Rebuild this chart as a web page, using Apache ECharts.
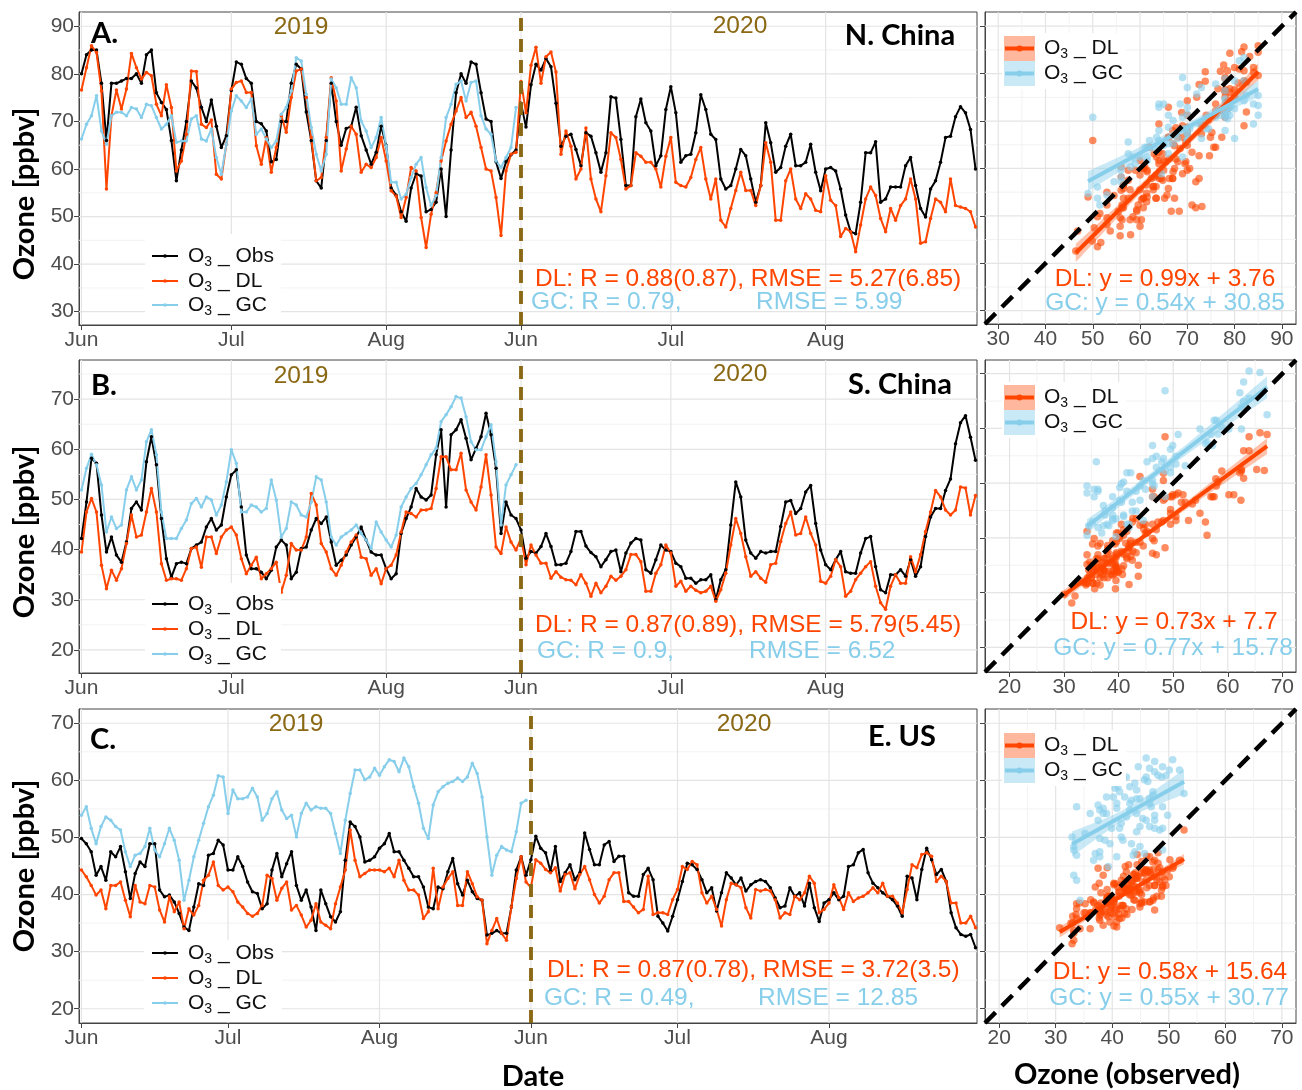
<!DOCTYPE html>
<html>
<head>
<meta charset="utf-8">
<script src="https://cdn.jsdelivr.net/npm/echarts@6/dist/echarts.min.js"></script>
<style>html,body{margin:0;padding:0;background:#fff}#c{width:1302px;height:1090px}</style>
</head>
<body>
<div id="c"></div>
<script>
// ---------------- DATA ----------------
const monthLabels = ['Jun', 'Jul', 'Aug', 'Jun', 'Jul', 'Aug'];
const A_monthIdx = [0, 30, 61, 88, 118, 149];
const B_monthIdx = [0, 30, 61, 88, 118, 149];
const C_monthIdx = [0, 30, 61, 92, 122, 153];
const A_split = 88, B_split = 88, C_split = 92;

const A_yTicks = [30, 40, 50, 60, 70, 80, 90];
const B_yTicks = [20, 30, 40, 50, 60, 70];
const C_yTicks = [20, 30, 40, 50, 60, 70];
const A_sTicks = [30, 40, 50, 60, 70, 80, 90];
const B_sTicks = [20, 30, 40, 50, 60, 70];
const C_sTicks = [20, 30, 40, 50, 60, 70];

const A_yRange = [27.2, 93];
const B_yRange = [15.4, 77.8];
const C_yRange = [17.5, 72.5];
const A_sRange = [27.2, 93];
const B_sRange = [15.5, 72.5];
const C_sRange = [17.5, 72.5];

// Panel A: N. China
const A_obs = [80,84,85,85,78,66,78,78,78.5,79,79,80,78,84,85,76,74,72.5,66,57.5,64,70,78.5,77,73,70,74.5,69,64.5,67,
76.5,82.5,82,79,78,70,69.5,68,61.5,62,70,70,78,82,81,72,66,57.5,56,66,78,70,65,68.5,69,73,67,64,61,63.5,69,
65,56,54.5,51,49,56,59,58.5,51,51.5,53,60,50,64,76,80,78,82.5,82,76,70.5,70,61.5,58,61.5,63,64,
73.8,68.8,77.7,82,80.8,83.2,81.5,73.8,64.8,66.9,67.3,64.1,60.7,67.6,66.9,63.4,59.3,63.4,75.2,74.9,
66.2,56.5,56.5,71,74.7,69.7,68,60.7,62.8,72.5,77.3,71.8,61.4,62.8,63.1,67.6,75.6,72.5,67.3,66.2,
57.9,55.8,56.5,60,64.1,62.8,57.9,53,56.5,69.7,65.5,59.3,60.3,64.8,67.3,60.7,60.7,61.4,65.2,59.3,
55.4,60,60.3,59.6,55.8,50.3,46.8,46.4,53,63.4,63.4,65.7,53,53.7,56.2,56.2,56.2,60.7,62.4,56.5,
51.7,49.9,55.8,57.5,61.4,66.6,66.9,71,73.1,71.8,68.3,60];
const A_dl = [76.6,81.3,85.9,84.5,76.4,55.8,71.2,76.6,72.6,76.8,84.3,81.3,78.9,80.3,79.6,73.6,71.2,77.7,72.9,59.6,61.7,67.3,80.6,80.5,69.4,68.7,70.3,58.9,57.9,65.2,
76.8,78.2,78.5,76.1,76.1,64.9,61,66.6,59.3,64.5,71.2,67.7,75,80.6,81,75,66.6,57.5,58.2,66.6,79.2,74.3,59.6,64.2,69,67.3,59.3,61,60.3,62.4,66.6,
61.7,55.4,54.3,49.8,54,60.3,59.6,49.8,43.5,50.5,55,61.7,65.9,69.4,72.2,75,70.8,71.9,69,64.5,60,59.6,54,46,59.6,63.1,63.5,
78.4,71.8,81.8,85.6,78,83.6,84.6,80.4,63.1,68,64.8,57.9,60,68.6,57.9,53.7,51,58.6,67.6,66.6,
62,55.8,56.5,63.4,62.7,61.4,61.4,60,56.2,62.7,66.6,57.2,56.5,56.2,58.2,62,64.5,57.9,53.7,57.9,
49.2,47.8,51.7,55.5,59.3,55.5,55.5,52.3,56.5,65.5,61.4,49.2,49.2,57.5,60,53.7,51.7,54.8,53.7,51.3,
51,58.6,53.4,52.3,45.8,47.5,46.8,42.6,48.2,53.7,56.2,54.4,49.6,46.8,51.7,49.2,52.3,53.7,57.9,53.7,
44.4,44.7,49.6,53.7,53,51,57.9,52.3,52,51.7,51,47.8];
const A_gc = [66.3,69.4,71.2,75.4,68,65.2,71.2,71.9,71.9,71.2,72.9,72.6,70.8,73.6,73.3,70.8,68.4,69.4,71.2,65.6,65.9,65.9,70.5,71.2,66.3,65.9,68.4,62.4,58.9,65.2,
72.2,75.4,74.3,72.9,74.7,67.3,68.4,66.3,64.5,65.9,71.5,72.9,76.4,83.4,82.7,75.7,68.7,63.1,59.6,63.1,78.9,77.1,73.6,73.6,79.2,77.1,70.1,68,64.5,66.6,70.8,
64.9,57.2,57.2,53.7,54.7,58.2,61,62.4,56.1,52.3,54.4,62.4,70.8,73.6,77.8,78.5,74.3,78.2,78.5,71.2,68.4,67.3,61.7,60.3,62.4,64.5,72.9];

// Panel B: S. China
const B_obs = [42.2,49.5,58.2,57.2,46.9,39.5,42.5,38.9,37.5,41.5,48.2,49.5,47.9,57.5,62.5,56.9,46.2,38.2,34.5,37.2,37.5,37.2,40.2,40.9,41.5,44.5,46.2,43.9,44.9,50.5,
54.9,55.9,48.5,38.9,36.2,36.2,35.5,34.2,35.9,40.5,41.9,40.9,34.2,35.5,40.2,40.5,43.9,46.2,45.2,46.5,41.5,36.9,37.9,38.9,40.9,42.5,44.5,41.9,39.5,38.9,38.9,
36.2,34.2,35.2,43.2,46.2,48.5,52.2,50.5,49.9,50.9,58.9,63.9,48.5,62.9,63.9,65.9,62.2,57.9,60.2,62.5,67.2,62.9,56.2,43.2,49.5,46.9,46.2,
43.9,38.3,39.6,39.3,40.6,43.2,40.6,37,37,37.3,39.6,43.6,43.6,40.7,39.4,38.6,36.6,38,39.6,39.9,
35.6,39.3,41.3,42.2,41.9,36,35.3,38,40.9,39.9,39.6,37.3,36.6,34.3,34.3,33.3,34,34,35,30,
34,36,44.9,53.5,50.5,41.9,39.3,38.3,39.6,39.3,39.6,39.6,44.6,49.5,49.8,47.2,48.2,51.5,52.8,45.2,
39.9,37,36,38,39.6,35.6,35.3,35.3,39.3,42.2,42.6,36.6,32,31.4,35,35,36,34.7,38,34.7,
36.6,42.6,46.5,48.2,48.2,51.8,54.1,61.1,65.3,66.7,62.4,57.8];
const B_dl = [39.5,47.5,50.2,47.5,36.9,32.2,35.9,33.9,36.2,41.2,46.9,42.5,42.9,47.5,52.2,47.5,37.2,33.9,34.2,34.2,33.9,36.2,40.2,40.5,36.5,42.5,42.5,39.2,42.5,43.9,
44.5,42.9,38.2,35.2,36.9,38.5,34.2,35.2,36.2,37.5,31.5,34.9,41.2,39.9,39.9,42.5,51.2,48.9,41.2,39.5,36.2,34.9,36.9,39.5,41.5,42.9,38.5,38.2,34.9,36.2,33.2,
36.2,36.9,38.9,43.5,47.5,47.2,46.5,47.9,47.9,48.2,52.2,58.5,58.5,55.9,55.9,59.2,51.9,49.5,47.9,52.5,58.9,50.9,40.5,39.2,44.5,41.5,39.9,
42.3,37,40.9,38.9,37.3,37.3,34.3,35.6,34.5,34,33.9,33,35,33.3,30.7,33.3,31.4,32.7,34.7,33.9,
34.7,36,39,39,37.6,31.7,31.7,35.3,37,40.9,39.3,32.7,33.7,31.7,32.7,31.9,31.4,31.7,32.7,29.7,
32,35.3,40.9,46.2,43.2,38.6,34.7,35.6,34.3,33.5,37,37.3,41.6,45.2,47.5,42.9,43.2,46.5,43.2,40.9,
33.7,33.3,34.7,38,36.6,30.7,31.7,34,35.3,36.6,37.6,32.7,29.4,28.1,32.7,35,33.3,33.3,38.6,35.6,
39,43.6,47.5,51.8,50.5,47.9,46.9,47.9,52.5,52.3,46.9,50.8];
const B_gc = [51.9,56.2,59,56.9,52.9,43.5,46.5,44.2,44.9,51.9,54.5,51.9,53.9,61.5,63.9,58.9,47.5,42.2,42.2,42.2,44.2,45.9,49.2,50.2,48.5,50.5,49.9,46.9,48.9,53.5,
59.9,57.2,47.5,47.5,48.9,48.5,47.5,48.2,53.9,49.9,42.5,44.2,49.5,48.9,46.9,46.5,49.5,54.5,53.9,49.5,42.5,40.9,42.5,43.2,43.9,44.9,43.2,41.9,40.2,45.5,43.5,
41.9,40.5,42.9,48.5,50.5,52.2,53.2,54.9,56.9,58.9,60.2,65.5,66.9,68.5,70.5,70.2,66.5,61.5,59.9,59.9,62.5,64.9,57.5,44.9,52.9,54.9,56.9];

// Panel C: E. US
const C_obs = [49.8,48.9,47.5,43.4,44.9,42.5,47.5,46.6,48.4,44,39.3,43.7,45.7,44.9,48.9,48.9,40.8,39.6,39.9,38.7,36.7,34.3,33.7,37.8,41.9,41.6,46.9,47.2,49.5,48.7,
44.3,44.3,46.6,44.9,42.2,40.5,40.2,37.5,38.4,44.3,47.2,43.1,45.4,47.5,41.6,39,40.8,37.8,33.7,40.8,38.4,36.1,35.2,37,46,52.7,51.9,50.1,45.7,46,46.6,
48.1,48.9,50.7,47.5,47.5,46,44.6,43.1,43.1,41.3,37.8,37.5,41.3,41,44,46.3,41.9,39.9,42.5,40.5,39.3,39,32.9,33.2,33.7,33.2,33.2,37.8,44.3,46.6,43.4,
46.1,50.2,48.1,47.3,44.1,48.4,42.3,43.8,45.2,42.6,43.8,50.8,47.9,45.2,45.2,48.7,49.3,45.8,46.7,46.7,
40.3,39.7,39.7,43.5,44.6,42.6,36.2,35,33.6,36.2,39.1,42.3,45.5,45.2,44.4,42.6,40.3,41.2,37.1,40.3,
43.8,42.9,41.7,42.9,40.6,41.7,42.3,42.6,42.3,41.2,39.4,37.7,38,41.2,39.7,40.3,38,42,37.7,35.3,
38.5,39.1,40.3,39.1,39.7,44.9,45.2,47.3,47.9,43.8,42,41.2,40.3,39.7,39.1,38,36.2,43.2,42.9,39.1,
44.4,48.1,46.1,43.5,44.4,42.3,36.8,34.2,33,32.7,33,30.7];
const C_dl = [44.3,43.1,41.6,39.9,40.8,37.5,41.6,41.6,42.2,39,36.1,41.6,38.7,38.4,41.6,41.3,37.3,35.2,39.6,37,38.7,34,37.5,36.4,38.1,42.5,43.4,45.7,41.6,40.8,
41.3,40.5,38.7,37.8,36.7,36.2,36.7,38.1,43.4,42.8,39,41.1,42.2,37.3,38.1,36.4,34.3,35.5,38.4,35.2,34.6,34,38.4,41.3,44.3,51.3,46,43.1,43.7,44.3,44.3,
44.3,44,44.6,43.1,46,42.5,40.8,40.8,39.9,35.8,37,44.6,37.5,41.3,42.8,44,38.1,38.1,44,41.9,39.6,39,31.4,33.7,35.8,33.2,32,37.8,42.8,46.6,42.2,
41.2,46.1,45.5,44.4,43.8,44.7,40.6,43.5,43.8,41,43.5,44.9,42.6,40,38.5,39.7,42.6,43.8,43.8,38.8,38.8,37.8,
36.8,37.4,43.2,36.5,36.8,36.8,36.5,39.1,40.9,44.9,44.4,45.8,45.2,40.3,38.5,39.7,37.4,34.5,39.1,42,
41.7,41.2,37.7,35.9,40.9,40.6,40.9,40.6,39.1,35.9,36.8,36.5,39.7,39.1,40.3,43.2,42,36.8,37.4,38.5,41.7,39.5,
37.4,40.3,38.8,39.4,39.7,40.3,41.2,40.3,42,39.7,39.7,38.5,36.8,40.9,45.2,44.7,47,47.3,46.7,42.3,43.2,42.3,38.5,38.5,35,35,36.2,34.2];
const C_gc = [53.9,55.4,51.6,48.9,51.9,53.6,53,51.9,51.3,47.5,44.9,46.9,47.2,48.4,51.6,47.8,46.6,48.9,51.6,49.5,46,39,42.5,46.6,49.5,52.5,55.4,57.4,60.8,60.6,
54.2,58.3,56.8,56.8,57.1,58.6,57.1,53,54.2,56.8,58,54.8,53.3,53.9,50.1,54.2,56,54.8,55.4,55.1,55.1,54.2,50.7,47.2,53,57.7,61.8,61.8,60.1,60.6,62.1,
60.9,62.4,63.6,63.3,61.5,63.9,62.4,58.9,56,51.6,49.8,55.7,58,58.9,59.5,59.8,60.4,59.8,60.6,63,61.2,57.1,50.1,43.4,46.9,48.4,47.8,47.5,51,56,56.5];

// Fitted lines drawn (slope, intercept) and their printed labels
const A_fitDL = [0.99, -3.76], A_fitGC = [0.54, 30.85];
const B_fitDL = [0.73, 7.7],  B_fitGC = [0.77, 15.78];
const C_fitDL = [0.58, 15.64], C_fitGC = [0.55, 30.77];
const A_eqText = ['DL: y = 0.99x + 3.76', 'GC: y = 0.54x + 30.85'];
const B_eqText = ['DL: y = 0.73x + 7.7', 'GC: y = 0.77x + 15.78'];
const C_eqText = ['DL: y = 0.58x + 15.64', 'GC: y = 0.55x + 30.77'];
const A_stats = ['DL: R = 0.88(0.87), RMSE = 5.27(6.85)', 'GC: R = 0.79,', 'RMSE = 5.99'];
const B_stats = ['DL: R = 0.87(0.89), RMSE = 5.79(5.45)', 'GC: R = 0.9,', 'RMSE = 6.52'];
const C_stats = ['DL: R = 0.87(0.78), RMSE = 3.72(3.5)', 'GC: R = 0.49,', 'RMSE = 12.85'];
const regions = ['N. China', 'S. China', 'E. US'];
const letters = ['A.', 'B.', 'C.'];
const years = ['2019', '2020'];

// ---------------- STYLE / LAYOUT ----------------
const RED = '#FF4500', BLUE = '#87CEEB', BLACK = '#000000', GOLD = '#8B6914';
const FONT = '"Liberation Sans", Arial, sans-serif';
const BOLD = 'Lato, "Open Sans", sans-serif';
const AXIS_COL = '#444';
const LABEL_COL = '#4D4D4D';

const panels = [
  {obs: A_obs, dl: A_dl, gc: A_gc, months: A_monthIdx, split: A_split, yTicks: A_yTicks, yRange: A_yRange,
   sTicks: A_sTicks, sRange: A_sRange, fitDL: A_fitDL, fitGC: A_fitGC, eq: A_eqText, stats: A_stats,
   top: 12, h: 313, sTop: 12, sH: 312, xMax: 179.3,
   L: {letter: [91, 34], y19: [301, 27], y20: [740, 26], region: [900, 36], leg: [256, 281, 305], legBox: [145, 234, 136, 90],
       dl: [535, 279], gc: [531, 302], rm: [756, 302], eqDL: [1165, 279], eqGC: [1165, 303], sLeg: [36, 61], title: 194}},
  {obs: B_obs, dl: B_dl, gc: B_gc, months: B_monthIdx, split: B_split, yTicks: B_yTicks, yRange: B_yRange,
   sTicks: B_sTicks, sRange: B_sRange, fitDL: B_fitDL, fitGC: B_fitGC, eq: B_eqText, stats: B_stats,
   top: 360, h: 313, sTop: 360, sH: 312, xMax: 179.3,
   L: {letter: [91, 386], y19: [301, 376], y20: [740, 374], region: [900, 385], leg: [604, 629, 654], legBox: [145, 583, 136, 89],
       dl: [535, 625], gc: [537, 651], rm: [749, 651], eqDL: [1174, 622], eqGC: [1173, 648], sLeg: [385, 410], title: 532}},
  {obs: C_obs, dl: C_dl, gc: C_gc, months: C_monthIdx, split: C_split, yTicks: C_yTicks, yRange: C_yRange,
   sTicks: C_sTicks, sRange: C_sRange, fitDL: C_fitDL, fitGC: C_fitGC, eq: C_eqText, stats: C_stats,
   top: 709, h: 314, sTop: 709, sH: 314, xMax: 183.3,
   L: {letter: [90, 740], y19: [296, 724], y20: [744, 724], region: [902, 737], leg: [953, 978, 1003], legBox: [144, 940, 138, 82],
       dl: [547, 970], gc: [544, 998], rm: [758, 998], eqDL: [1170, 972], eqGC: [1169, 998], sLeg: [733, 758], title: 866}}
];
const TS_LEFT = 79, TS_W = 898, SC_LEFT = 985, SC_W = 311;

// ---------------- HELPERS ----------------
function gridData(hTicks, hRange, vTicks, vRange, vMinor) {
  const out = [];
  const add = (o, ticks, range, minor) => {
    ticks.forEach(t => { if (t >= range[0] && t <= range[1]) out.push([o, t, 1]); });
    if (minor) {
      const step = ticks[1] - ticks[0];
      [ticks[0] - step / 2].concat(ticks.map(t => t + step / 2)).forEach(m => {
        if (m > range[0] && m < range[1]) out.push([o, m, 0]);
      });
    }
  };
  add(0, hTicks, hRange, true);
  add(1, vTicks, vRange, vMinor);
  return out;
}
function gridRender(xMin, yMin) {
  return function (params, api) {
    const cs = params.coordSys;
    const o = api.value(0), v = api.value(1), major = api.value(2);
    const style = {stroke: major ? '#E4E4E4' : '#F0F0F0', lineWidth: major ? 1.2 : 0.9};
    if (o === 0) {
      const y = api.coord([xMin, v])[1];
      return {type: 'line', silent: true, shape: {x1: cs.x, y1: y, x2: cs.x + cs.width, y2: y}, style};
    }
    const x = api.coord([v, yMin])[0];
    return {type: 'line', silent: true, shape: {x1: x, y1: cs.y, x2: x, y2: cs.y + cs.height}, style};
  };
}
function fitInfo(xs, ys, fit) {
  const n = xs.length;
  const xbar = xs.reduce((a, b) => a + b, 0) / n;
  let sxx = 0, sse = 0;
  for (let i = 0; i < n; i++) {
    sxx += (xs[i] - xbar) ** 2;
    sse += (ys[i] - (fit[0] * xs[i] + fit[1])) ** 2;
  }
  const s = Math.sqrt(sse / (n - 2));
  const x0 = Math.min(...xs), x1 = Math.max(...xs);
  const up = [], lo = [];
  const N = 40;
  for (let k = 0; k <= N; k++) {
    const x = x0 + (x1 - x0) * k / N;
    const se = 1.97 * s * Math.sqrt(1 / n + (x - xbar) ** 2 / sxx);
    const y = fit[0] * x + fit[1];
    up.push([x, y + se]);
    lo.push([x, y - se]);
  }
  return {line: [[x0, fit[0] * x0 + fit[1]], [x1, fit[0] * x1 + fit[1]]], poly: up.concat(lo.reverse())};
}
function polyRender(poly, fill) {
  return function (params, api) {
    return {type: 'polygon', silent: true, shape: {points: poly.map(p => api.coord(p))}, style: {fill: fill}};
  };
}
const legRich = {
  m: {fontSize: 21, fontFamily: FONT, lineHeight: 26, fill: '#111'},
  s: {fontSize: 14, fontFamily: FONT, lineHeight: 14, verticalAlign: 'bottom', fill: '#111'}
};
function legText(x, y, name) {
  return {type: 'text', x: x, y: y, z: 100, silent: true,
    style: {text: '{m|O}{s|3}{m| _ ' + name + '}', rich: legRich, verticalAlign: 'middle', textVerticalAlign: 'middle', align: 'left'}};
}
function txt(x, y, text, opt) {
  return {type: 'text', x: x, y: y, z: 100, silent: true,
    style: Object.assign({text: text, fontSize: 24.5, fontFamily: FONT, fill: '#000',
      align: 'left', verticalAlign: 'middle', textVerticalAlign: 'middle'}, opt || {})};
}

// ---------------- BUILD ----------------
const grid = [], xAxis = [], yAxis = [], series = [], graphics = [];

panels.forEach((p, pi) => {
  const gTS = pi * 2, gSC = pi * 2 + 1;
  grid.push({left: TS_LEFT, top: p.top, width: TS_W, height: p.h, show: true, borderColor: AXIS_COL, borderWidth: 1,
    backgroundColor: '#fff', containLabel: false, outerBoundsMode: 'none'});
  grid.push({left: SC_LEFT, top: p.sTop, width: SC_W, height: p.sH, show: true, borderColor: AXIS_COL, borderWidth: 1,
    backgroundColor: '#fff', containLabel: false, outerBoundsMode: 'none'});

  const months = p.months;
  xAxis.push({type: 'value', gridIndex: gTS, min: -0.5, max: p.xMax,
    axisLine: {show: true, onZero: false, lineStyle: {color: AXIS_COL, width: 1}},
    axisTick: {show: true, length: 5, customValues: months, lineStyle: {color: AXIS_COL}},
    axisLabel: {show: true, customValues: months, color: LABEL_COL, fontSize: 21, fontFamily: FONT, margin: 5,
      formatter: v => monthLabels[months.indexOf(v)] || ''},
    splitLine: {show: false}});
  yAxis.push({type: 'value', gridIndex: gTS, min: p.yRange[0], max: p.yRange[1],
    axisLine: {show: true, onZero: false, lineStyle: {color: AXIS_COL, width: 1}},
    axisTick: {show: true, length: 5, customValues: p.yTicks, lineStyle: {color: AXIS_COL}},
    axisLabel: {show: true, customValues: p.yTicks, color: LABEL_COL, fontSize: 21, fontFamily: FONT, margin: 5},
    splitLine: {show: false}});
  xAxis.push({type: 'value', gridIndex: gSC, min: p.sRange[0], max: p.sRange[1],
    axisLine: {show: true, onZero: false, lineStyle: {color: AXIS_COL, width: 1}},
    axisTick: {show: true, length: 5, customValues: p.sTicks, lineStyle: {color: AXIS_COL}},
    axisLabel: {show: true, customValues: p.sTicks, color: LABEL_COL, fontSize: 21, fontFamily: FONT, margin: 5},
    splitLine: {show: false}});
  yAxis.push({type: 'value', gridIndex: gSC, min: p.sRange[0], max: p.sRange[1],
    axisLine: {show: true, onZero: false, lineStyle: {color: AXIS_COL, width: 1}},
    axisTick: {show: true, length: 5, customValues: p.sTicks, lineStyle: {color: AXIS_COL}},
    axisLabel: {show: false},
    splitLine: {show: false}});

  // gridlines
  series.push({type: 'custom', xAxisIndex: gTS, yAxisIndex: gTS, z: 1, silent: true, animation: false,
    renderItem: gridRender(-0.5, p.yRange[0]),
    data: gridData(p.yTicks, p.yRange, months, [-0.5, p.xMax], false)});
  series.push({type: 'custom', xAxisIndex: gSC, yAxisIndex: gSC, z: 1, silent: true, animation: false,
    renderItem: gridRender(p.sRange[0], p.sRange[0]),
    data: gridData(p.sTicks, p.sRange, p.sTicks, p.sRange, true)});

  // time series
  const lineSeries = (name, arr, color, extra) => Object.assign({
    type: 'line', name: name, xAxisIndex: gTS, yAxisIndex: gTS, z: 3,
    data: arr.map((v, i) => [i, v]),
    symbol: 'circle', symbolSize: 3.5, showSymbol: true, showAllSymbol: true,
    lineStyle: {color: color, width: 2}, itemStyle: {color: color}, animation: false, silent: true
  }, extra || {});
  series.push(lineSeries('Obs', p.obs, BLACK, {
    markLine: {silent: true, symbol: 'none', label: {show: false}, animation: false,
      lineStyle: {color: GOLD, width: 3.5, type: [13, 8], opacity: 1},
      data: [{xAxis: p.split}]}
  }));
  series.push(lineSeries('DL', p.dl, RED));
  series.push(lineSeries('GC', p.gc, BLUE));
  // put dashed split above all lines
  series.push({type: 'line', xAxisIndex: gTS, yAxisIndex: gTS, z: 5, data: [], silent: true, animation: false,
    markLine: {silent: true, symbol: 'none', label: {show: false}, animation: false,
      lineStyle: {color: GOLD, width: 3.5, type: [13, 8], opacity: 1}, data: [{xAxis: p.split}]}});

  // scatter
  const gcObs = p.obs.slice(0, p.gc.length);
  series.push({type: 'scatter', xAxisIndex: gSC, yAxisIndex: gSC, z: 3, symbolSize: 7.5, animation: false, silent: true,
    itemStyle: {color: RED, opacity: 0.62},
    data: p.dl.map((v, i) => [p.obs[i], v])});
  series.push({type: 'scatter', xAxisIndex: gSC, yAxisIndex: gSC, z: 3, symbolSize: 7.5, animation: false, silent: true,
    itemStyle: {color: BLUE, opacity: 0.62},
    data: p.gc.map((v, i) => [gcObs[i], v])});

  const fDL = fitInfo(p.obs, p.dl, p.fitDL);
  const fGC = fitInfo(gcObs, p.gc, p.fitGC);
  [[fDL, 'rgba(255,69,0,0.32)', RED], [fGC, 'rgba(135,206,235,0.45)', BLUE]].forEach(([f, fill, col]) => {
    series.push({type: 'custom', xAxisIndex: gSC, yAxisIndex: gSC, z: 4, silent: true, animation: false,
      renderItem: polyRender(f.poly, fill), data: [f.poly[0]]});
    series.push({type: 'line', xAxisIndex: gSC, yAxisIndex: gSC, z: 4, symbol: 'none', silent: true, animation: false,
      lineStyle: {color: col, width: 4}, data: f.line});
  });
  // 1:1 reference line across the panel
  series.push({type: 'line', xAxisIndex: gSC, yAxisIndex: gSC, z: 6, symbol: 'none', silent: true, animation: false,
    lineStyle: {color: '#000', width: 4.5, type: [15, 9]},
    data: [[p.sRange[0], p.sRange[0]], [p.sRange[1], p.sRange[1]]]});

  // ---- texts & legends ----
  const L = p.L;
  graphics.push(txt(L.letter[0], L.letter[1], letters[pi], {fontFamily: BOLD, fontWeight: 'bold', fontSize: 29}));
  graphics.push(txt(L.y19[0], L.y19[1], years[0], {fill: GOLD, fontSize: 24.5, align: 'center'}));
  graphics.push(txt(L.y20[0], L.y20[1], years[1], {fill: GOLD, fontSize: 24.5, align: 'center'}));
  graphics.push(txt(L.region[0], L.region[1], regions[pi], {fontFamily: BOLD, fontWeight: 'bold', fontSize: 29, align: 'center'}));
  graphics.push(txt(L.dl[0], L.dl[1], p.stats[0], {fill: RED}));
  graphics.push(txt(L.gc[0], L.gc[1], p.stats[1], {fill: BLUE}));
  graphics.push(txt(L.rm[0], L.rm[1], p.stats[2], {fill: BLUE}));
  graphics.push(txt(L.eqDL[0], L.eqDL[1], p.eq[0], {fill: RED, align: 'center'}));
  graphics.push(txt(L.eqGC[0], L.eqGC[1], p.eq[1], {fill: BLUE, align: 'center'}));
  // y title
  graphics.push({type: 'text', x: 25, y: L.title, rotation: Math.PI / 2, z: 100, silent: true,
    style: {text: 'Ozone [ppbv]', fontFamily: BOLD, fontWeight: 'bold', fontSize: 29, fill: '#000',
      align: 'center', verticalAlign: 'middle', textVerticalAlign: 'middle'}});

  // TS legend
  const lb = L.legBox;
  graphics.push({type: 'rect', z: 90, silent: true, shape: {x: lb[0], y: lb[1], width: lb[2], height: lb[3]}, style: {fill: '#fff'}});
  [['Obs', BLACK], ['DL', RED], ['GC', BLUE]].forEach(([nm, col], k) => {
    const y = L.leg[k];
    graphics.push({type: 'line', z: 95, silent: true, shape: {x1: 152, y1: y, x2: 178, y2: y}, style: {stroke: col, lineWidth: 2}});
    graphics.push({type: 'circle', z: 95, silent: true, shape: {cx: 165, cy: y, r: 1.8}, style: {fill: col}});
    graphics.push(legText(188, y, nm));
  });

  // scatter legend
  graphics.push({type: 'rect', z: 90, silent: true, shape: {x: 1002, y: L.sLeg[0] - 3, width: 124, height: 56}, style: {fill: '#fff'}});
  [['DL', 'rgba(255,69,0,0.38)', RED], ['GC', 'rgba(135,206,235,0.45)', BLUE]].forEach(([nm, fill, col], k) => {
    const y0 = L.sLeg[k];
    graphics.push({type: 'rect', z: 95, silent: true, shape: {x: 1004, y: y0, width: 31, height: 25}, style: {fill: fill}});
    graphics.push({type: 'line', z: 96, silent: true, shape: {x1: 1005, y1: y0 + 12.5, x2: 1034, y2: y0 + 12.5}, style: {stroke: col, lineWidth: 4}});
    graphics.push({type: 'circle', z: 96, silent: true, shape: {cx: 1019.5, cy: y0 + 12.5, r: 3}, style: {fill: col}});
    graphics.push(legText(1044, y0 + 12.5, nm));
  });
});

graphics.push(txt(533, 1077, 'Date', {fontFamily: BOLD, fontWeight: 'bold', fontSize: 29, align: 'center'}));
graphics.push(txt(1127, 1075, 'Ozone (observed)', {fontFamily: BOLD, fontWeight: 'bold', fontSize: 29, align: 'center'}));

const chart = echarts.init(document.getElementById('c'), null, {renderer: 'canvas', width: 1302, height: 1090});
chart.setOption({
  animation: false,
  backgroundColor: '#ffffff',
  textStyle: {fontFamily: FONT},
  grid: grid, xAxis: xAxis, yAxis: yAxis, series: series,
  graphic: {elements: graphics}
});
</script>
</body>
</html>
